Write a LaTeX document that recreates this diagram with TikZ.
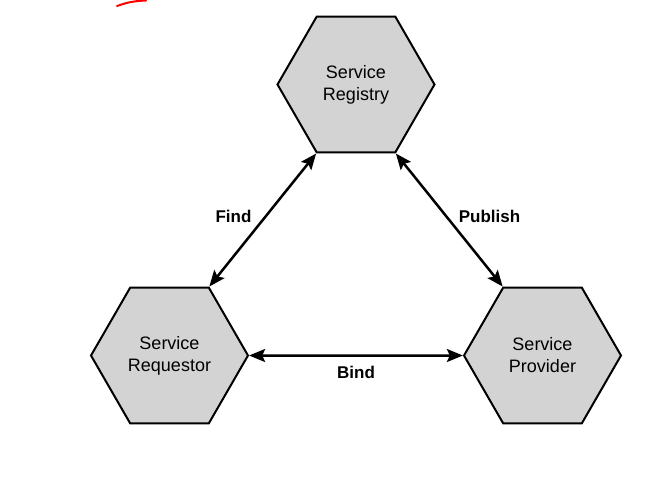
\documentclass[tikz,border=0pt]{standalone}
\usepackage{fontspec}
\setmainfont{Liberation Sans}
\usetikzlibrary{shapes.geometric,arrows.meta}
\begin{document}
\begin{tikzpicture}[x=1pt,y=-1pt,
  hexnode/.style={regular polygon, regular polygon sides=6, minimum size=157pt,
    inner sep=0pt, draw=black, line width=2pt, fill={rgb,255:red,211;green,211;blue,211},
    align=center, font=\fontsize{18}{22}\selectfont},
  conn/.style={line width=2.5pt, {Stealth[length=16pt,width=13pt,inset=3pt]}-{Stealth[length=16pt,width=13pt,inset=3pt]}},
  lbl/.style={font=\bfseries\fontsize{17}{20}\selectfont, anchor=base, inner sep=0pt}]
\useasboundingbox (0,0) rectangle (657,482);
\node[hexnode] (reg) at (356,84.5) {Service\\Registry};
\node[hexnode] (req) at (169.5,355.5) {Service\\Requestor};
\node[hexnode] (prov) at (542.5,355.5) {Service\\Provider};
\draw[conn] (reg.240) -- (req.60);
\draw[conn] (reg.300) -- (prov.120);
\draw[conn] (req.east) -- (prov.west);
\node[lbl] (find) at (233.5,222) {Find};
\node[lbl] (pub) at (489.5,222) {Publish};
\node[lbl] (bind) at (356,378) {Bind};
\draw[red, line width=2pt, line cap=round] (117,6) .. controls (128,2) and (135,1) .. (146,0.5);
\end{tikzpicture}
\end{document}
